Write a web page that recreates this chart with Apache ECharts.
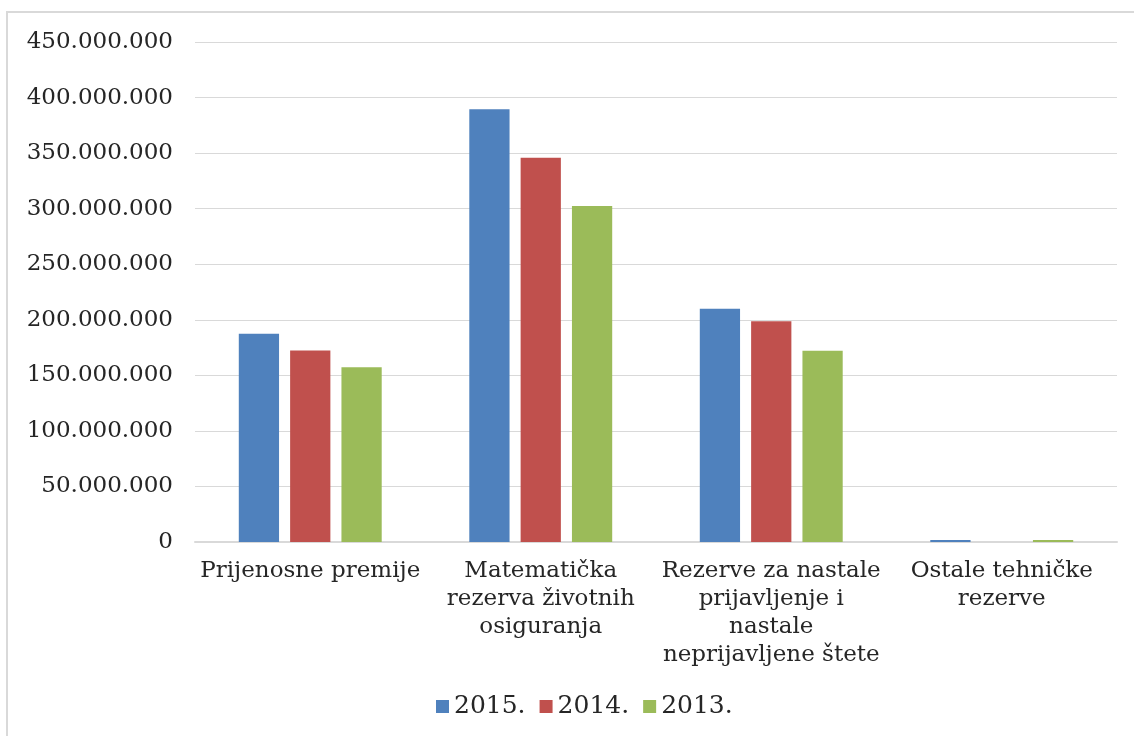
<!DOCTYPE html>
<html>
<head>
<meta charset="utf-8">
<script src="https://cdn.jsdelivr.net/npm/echarts@6/dist/echarts.min.js"></script>
<style>
html,body{margin:0;padding:0;background:#fff;}
#chart{width:1134px;height:736px;}
</style>
</head>
<body>
<div id="chart"></div>
<script>
const categories = [
  "Prijenosne premije",
  "Matematička\nrezerva životnih\nosiguranja",
  "Rezerve za nastale\nprijavljenje i\nnastale\nneprijavljene štete",
  "Ostale tehničke\nrezerve"
];
const seriesNames = ["2015.", "2014.", "2013."];
const values2015 = [187400000, 389500000, 209900000, 1800000];
const values2014 = [172300000, 345800000, 198700000, 0];
const values2013 = [157300000, 302300000, 172100000, 1800000];
const colors = ["#4F81BD", "#C0504D", "#9BBB59"];

const FONT = "DejaVu Serif";
function fmt(v){
  return String(Math.round(v)).replace(/\B(?=(\d{3})+(?!\d))/g, ".");
}

const chart = echarts.init(document.getElementById('chart'), null, {renderer:'canvas'});
const dataSets = [values2015, values2014, values2013];
chart.setOption({
  animation: false,
  backgroundColor: '#ffffff',
  textStyle: {fontFamily: FONT},
  graphic: [{
    type: 'rect',
    shape: {x: 7, y: 12, width: 1140, height: 740},
    style: {fill: 'none', stroke: '#d9d9d9', lineWidth: 2},
    silent: true
  }],
  grid: {left: 195, right: 17, top: 42, bottom: 194, containLabel: false},
  legend: {
    data: seriesNames,
    bottom: 12,
    left: 431,
    itemWidth: 13,
    itemHeight: 13,
    itemGap: 14,
    icon: 'rect',
    textStyle: {fontFamily: FONT, fontSize: 25, color: '#262626'}
  },
  xAxis: {
    type: 'category',
    data: categories,
    axisLine: {show: true, lineStyle: {color: '#d9d9d9', width: 2}},
    axisTick: {show: false},
    axisLabel: {
      interval: 0,
      margin: 15,
      fontFamily: FONT,
      fontSize: 23,
      lineHeight: 28,
      color: '#262626',
      align: 'center'
    }
  },
  yAxis: {
    type: 'value',
    min: 0,
    max: 450000000,
    interval: 50000000,
    axisLine: {show: false},
    axisTick: {show: false},
    splitLine: {lineStyle: {color: '#d9d9d9', width: 1}},
    axisLabel: {
      margin: 22,
      fontFamily: FONT,
      fontSize: 23,
      color: '#262626',
      formatter: fmt
    }
  },
  series: seriesNames.map((n, i) => ({
    name: n,
    type: 'bar',
    data: dataSets[i],
    barGap: '27.5%',
    barCategoryGap: '38%',
    itemStyle: {color: colors[i]}
  }))
});
</script>
</body>
</html>
